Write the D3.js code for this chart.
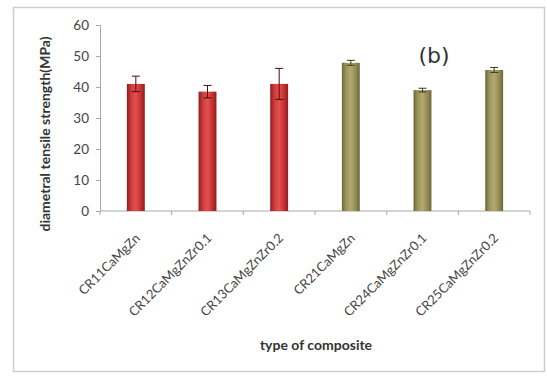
<!DOCTYPE html>
<html>
<head>
<meta charset="utf-8">
<script src="https://cdn.jsdelivr.net/npm/d3@7"></script>
<style>
  html, body { margin: 0; padding: 0; background: #fff; }
  svg { display: block; }
</style>
</head>
<body>
<svg id="chart" width="547" height="376"></svg>
<script>
// Diametral tensile strength per composite, with standard-deviation error bars
const categories = ["CR11CaMgZn", "CR12CaMgZnZr0.1", "CR13CaMgZnZr0.2", "CR21CaMgZn", "CR24CaMgZnZr0.1", "CR25CaMgZnZr0.2"];
const strength = [41, 38.5, 41, 47.8, 39, 45.5];
const errors = [2.5, 2, 5, 0.8, 0.6, 0.8];
const groups = ["red", "red", "red", "olive", "olive", "olive"];
const yTicks = [0, 10, 20, 30, 40, 50, 60];

const svg = d3.select("#chart");
const font = "Lato, 'Open Sans', sans-serif";

// outer frame
svg.append("rect")
  .attr("x", 13.5).attr("y", 7.5)
  .attr("width", 531).attr("height", 364)
  .attr("fill", "#fff")
  .attr("stroke", "#cfcfcf").attr("stroke-width", 1.5);

const plotLeft = 100, plotRight = 530, plotTop = 25, plotBottom = 211;

const x = d3.scaleBand().domain(categories).range([plotLeft, plotRight]).padding(0);
const y = d3.scaleLinear().domain([0, 60]).range([plotBottom, plotTop]);

// gradients for cylindrical bar look
const defs = svg.append("defs");
const gradDefs = {
  red: ["#8e1e1e", "#d23c3c", "#e35050", "#c83232", "#8e1e1e"],
  olive: ["#6d673c", "#9d975c", "#b0aa6e", "#958f55", "#6d673c"]
};
Object.entries(gradDefs).forEach(([k, stops]) => {
  const g = defs.append("linearGradient").attr("id", "g-" + k)
    .attr("x1", "0%").attr("x2", "100%").attr("y1", "0%").attr("y2", "0%");
  stops.forEach((c, i) => g.append("stop")
    .attr("offset", (i / (stops.length - 1) * 100) + "%")
    .attr("stop-color", c));
});

// y axis
const yAxis = svg.append("g")
  .attr("transform", `translate(${plotLeft},0)`)
  .call(d3.axisLeft(y).tickValues(yTicks).tickSize(4).tickPadding(7));
yAxis.select(".domain").attr("stroke", "#a8a8a8");
yAxis.selectAll(".tick line").attr("stroke", "#a8a8a8");
yAxis.selectAll(".tick text")
  .attr("font-family", font).attr("font-size", 13.5).attr("fill", "#444");

// x axis with ticks at category boundaries
const xAxisG = svg.append("g").attr("transform", `translate(0,${plotBottom})`);
xAxisG.append("line")
  .attr("x1", plotLeft).attr("x2", plotRight)
  .attr("stroke", "#a8a8a8");
const boundaries = categories.map(c => x(c)).concat([plotRight]);
xAxisG.selectAll("line.tk").data(boundaries).join("line")
  .attr("class", "tk")
  .attr("x1", d => d).attr("x2", d => d)
  .attr("y1", 0).attr("y2", 4)
  .attr("stroke", "#a8a8a8");

// category labels rotated 45 degrees
xAxisG.selectAll("text.cat").data(categories).join("text")
  .attr("class", "cat")
  .attr("transform", d => `translate(${x(d) + x.bandwidth() / 2 + 5},${28}) rotate(-45)`)
  .attr("text-anchor", "end")
  .attr("font-family", font).attr("font-size", 13).attr("fill", "#444")
  .text(d => d);

// bars
const barW = x.bandwidth() * 0.25;
svg.append("g").selectAll("rect").data(categories).join("rect")
  .attr("x", (d) => x(d) + x.bandwidth() / 2 - barW / 2)
  .attr("y", (d, i) => y(strength[i]))
  .attr("width", barW)
  .attr("height", (d, i) => y(0) - y(strength[i]))
  .attr("fill", (d, i) => `url(#g-${groups[i]})`);

// error bars
const eb = svg.append("g").attr("stroke-width", 1);
categories.forEach((c, i) => {
  const cx = x(c) + x.bandwidth() / 2;
  const hi = y(strength[i] + errors[i]), lo = y(strength[i] - errors[i]);
  const col = groups[i] === "red" ? "#4a0c0c" : "#3e3a1e";
  eb.append("line").attr("x1", cx).attr("x2", cx).attr("y1", hi).attr("y2", lo).attr("stroke", col);
  eb.append("line").attr("x1", cx - 4).attr("x2", cx + 4).attr("y1", hi).attr("y2", hi).attr("stroke", col);
  eb.append("line").attr("x1", cx - 4).attr("x2", cx + 4).attr("y1", lo).attr("y2", lo).attr("stroke", col);
});

// panel tag
svg.append("text")
  .attr("x", 434).attr("y", 63)
  .attr("text-anchor", "middle")
  .attr("font-family", "'DejaVu Sans', sans-serif").attr("font-size", 22).attr("fill", "#333")
  .text("(b)");

// axis titles
svg.append("text")
  .attr("transform", `translate(50,134) rotate(-90)`)
  .attr("text-anchor", "middle")
  .attr("font-family", font).attr("font-weight", "bold").attr("font-size", 14).attr("fill", "#333")
  .text("diametral tensile strength(MPa)");

svg.append("text")
  .attr("x", 316).attr("y", 350)
  .attr("text-anchor", "middle")
  .attr("font-family", font).attr("font-weight", "bold").attr("font-size", 14).attr("fill", "#333")
  .text("type of composite");
</script>
</body>
</html>
